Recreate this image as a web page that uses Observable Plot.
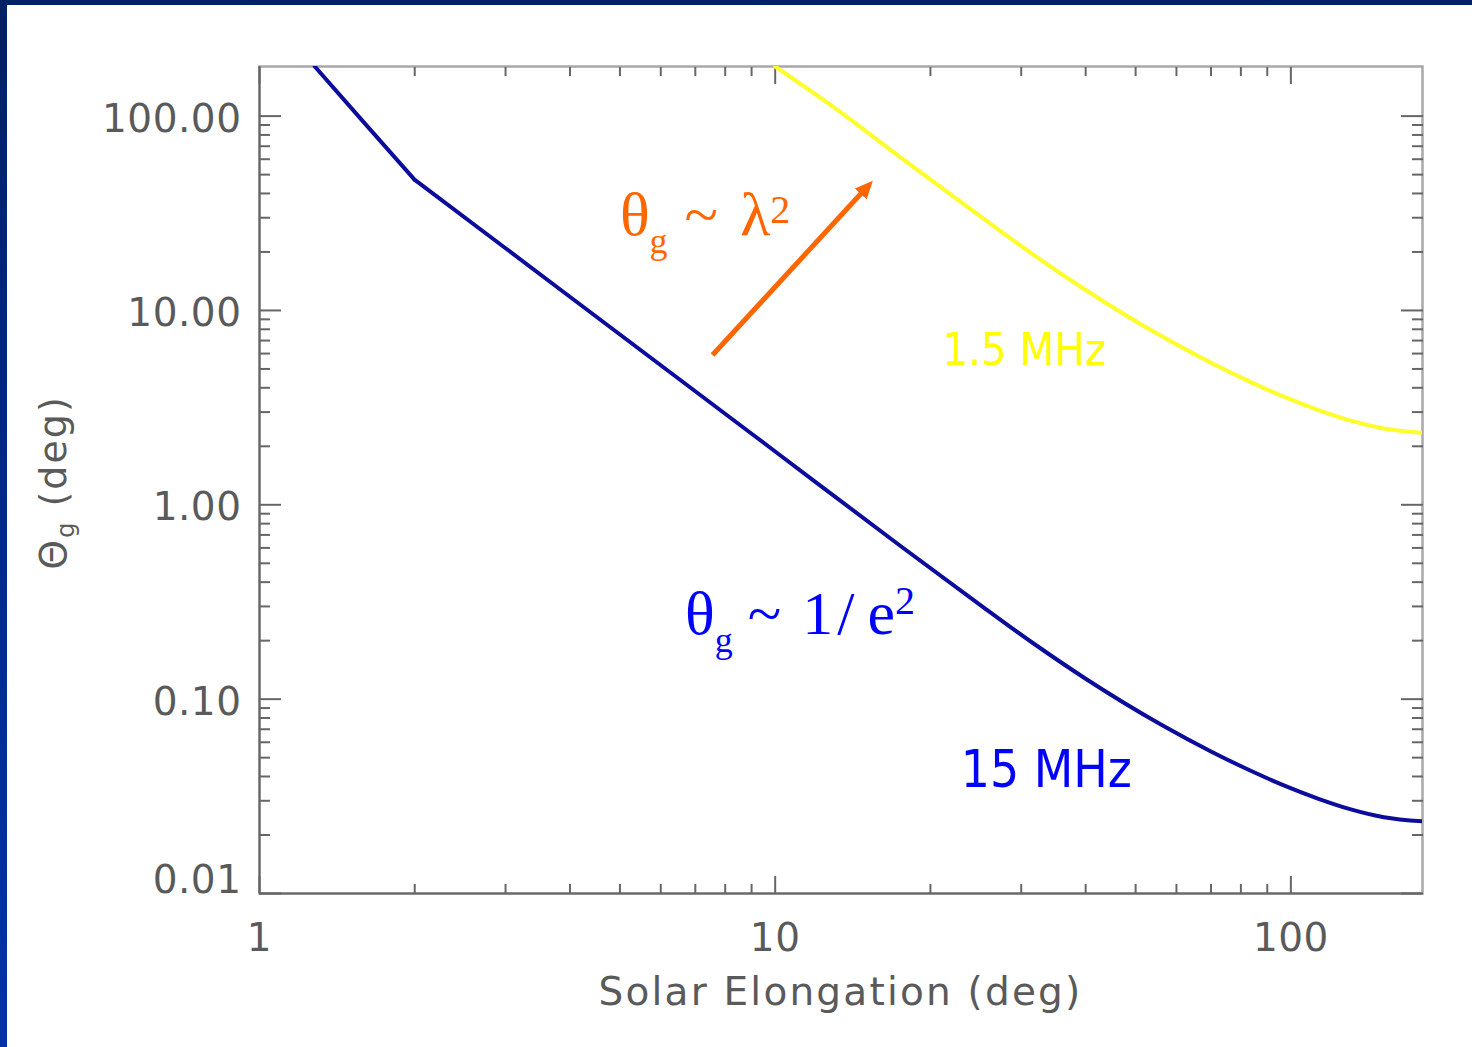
<!DOCTYPE html>
<html>
<head>
<meta charset="utf-8">
<script src="https://cdn.jsdelivr.net/npm/d3@7"></script>
<script src="https://cdn.jsdelivr.net/npm/@observablehq/plot@0.6"></script>
<style>
  html, body { margin: 0; padding: 0; }
  body {
    width: 1472px; height: 1047px; overflow: hidden; position: relative;
    background: linear-gradient(180deg, #002066 0%, #0034a6 100%);
  }
  #chart { position: absolute; left: 7px; top: 5px; background: #fff; }
  #chart g[aria-label="y-axis tick label"] text,
  #chart g[aria-label="x-axis tick label"] text { letter-spacing: 0.5px; }
</style>
</head>
<body>
<div id="chart"></div>
<script>
// Scattering angle θg (deg) against solar elongation (deg), 15 MHz
const elong15 = [1.28, 1.6, 2, 3, 5, 10, 17.5, 25, 31.6, 40, 56.2, 70, 83.6, 96.9, 112.8, 130.7, 151.5, 180];
const theta15 = [180, 91.8, 47, 20.9, 7.52, 1.88, 0.614, 0.305, 0.1945, 0.1274, 0.0736, 0.0538, 0.0428, 0.0360, 0.0308, 0.0271, 0.0247, 0.0235];

// Same quantity at 1.5 MHz
const elong1p5 = [10, 13, 17.5, 25, 31.6, 40, 56.2, 70, 83.6, 96.9, 112.8, 130.7, 151.5, 180];
const theta1p5 = [180, 111, 61.4, 30.5, 19.45, 12.74, 7.36, 5.38, 4.28, 3.60, 3.08, 2.71, 2.47, 2.35];

// Axis ticks and labels
const xMajorTicks = [1, 10, 100];
const xMinorTicks = [2, 3, 4, 5, 6, 7, 8, 9, 20, 30, 40, 50, 60, 70, 80, 90];
const xTickLabels = ["1", "10", "100"];
const yMajorTicks = [0.01, 0.1, 1, 10, 100];
const yMinorTicks = [0.02, 0.03, 0.04, 0.05, 0.06, 0.07, 0.08, 0.09,
                     0.2, 0.3, 0.4, 0.5, 0.6, 0.7, 0.8, 0.9,
                     2, 3, 4, 5, 6, 7, 8, 9,
                     20, 30, 40, 50, 60, 70, 80, 90];
const yTickLabels = ["0.01", "0.10", "1.00", "10.00", "100.00"];

// Annotations (data coordinates)
const curveLabels = [
  {text: "1.5 MHz", elong: 21.1, theta: 5.26},
  {text: "15 MHz", elong: 22.9, theta: 0.0354}
];
const arrowFrom = {elong: 7.56, theta: 5.9};
const arrowTo = {elong: 15.1, theta: 43.4};
const lambdaNote = {elong: 5.01, theta: 24.3};
const elongNote = {elong: 6.70, theta: 0.214};

const series15 = elong15.map((e, i) => ({elong: e, theta: theta15[i]}));
const series1p5 = elong1p5.map((e, i) => ({elong: e, theta: theta1p5[i]}));

const W = 1465, H = 1042;
const mL = 252, mT = 61, mR = 50, mB = 154;
const axisGray = "#666";
const textGray = "#5a5a5a";

const yFmt = d => yTickLabels[yMajorTicks.indexOf(d)];
const xFmt = d => xTickLabels[xMajorTicks.indexOf(d)];

const plot = Plot.plot({
  width: W, height: H,
  marginLeft: mL, marginTop: mT, marginRight: mR, marginBottom: mB,
  style: {background: "#fff", fontFamily: "DejaVu Sans"},
  x: {type: "log", domain: [1, 180]},
  y: {type: "log", domain: [0.01, 180]},
  marks: [
    Plot.frame({stroke: "#a8a8a8", strokeWidth: 2.5}),
    Plot.ruleX([1], {stroke: axisGray, strokeWidth: 2}),
    Plot.ruleY([0.01], {stroke: axisGray, strokeWidth: 2}),

    // inward ticks on all four sides
    Plot.axisX({anchor: "bottom", ticks: xMajorTicks, tickSize: -17, fill: "none", stroke: axisGray, strokeWidth: 2, label: null}),
    Plot.axisX({anchor: "bottom", ticks: xMinorTicks, tickSize: -9, fill: "none", stroke: axisGray, strokeWidth: 2, label: null}),
    Plot.axisX({anchor: "top", ticks: xMajorTicks, tickSize: -17, fill: "none", stroke: axisGray, strokeWidth: 2, label: null}),
    Plot.axisX({anchor: "top", ticks: xMinorTicks, tickSize: -9, fill: "none", stroke: axisGray, strokeWidth: 2, label: null}),
    Plot.axisY({anchor: "left", ticks: yMajorTicks, tickSize: -22, fill: "none", stroke: axisGray, strokeWidth: 2, label: null}),
    Plot.axisY({anchor: "left", ticks: yMinorTicks, tickSize: -11, fill: "none", stroke: axisGray, strokeWidth: 2, label: null}),
    Plot.axisY({anchor: "right", ticks: yMajorTicks, tickSize: -22, fill: "none", stroke: axisGray, strokeWidth: 2, label: null}),
    Plot.axisY({anchor: "right", ticks: yMinorTicks, tickSize: -11, fill: "none", stroke: axisGray, strokeWidth: 2, label: null}),

    // tick labels
    Plot.axisX({anchor: "bottom", ticks: xMajorTicks, tickSize: 0, tickPadding: 30, tickFormat: xFmt,
                fontSize: 39, fill: textGray, label: null}),
    Plot.axisY({anchor: "left", ticks: yMajorTicks.filter(d => d > 0.01), tickSize: 0, tickPadding: 18, tickFormat: yFmt,
                fontSize: 39, fill: textGray, dy: 3, label: null}),
    Plot.axisY({anchor: "left", ticks: yMajorTicks.filter(d => d === 0.01), tickSize: 0, tickPadding: 18, tickFormat: yFmt,
                fontSize: 39, fill: textGray, dy: -13, label: null}),

    // curves: the 15 MHz one has a sharp break at 2 deg
    Plot.line(series1p5, {x: "elong", y: "theta", stroke: "#ffff2a", strokeWidth: 4, curve: "monotone-x", clip: true}),
    Plot.line(series15.filter(d => d.elong <= 2), {x: "elong", y: "theta", stroke: "#0c0c9c", strokeWidth: 4, curve: "linear", clip: true}),
    Plot.line(series15.filter(d => d.elong >= 2), {x: "elong", y: "theta", stroke: "#0c0c9c", strokeWidth: 4, curve: "monotone-x", clip: true}),

    // wavelength-scaling arrow
    Plot.link([arrowFrom], {x1: "elong", y1: "theta", x2: () => arrowTo.elong, y2: () => arrowTo.theta,
                            stroke: "#ff6600", strokeWidth: 5}),

    // curve labels
    Plot.text(curveLabels.slice(0, 1), {x: "elong", y: "theta", text: "text", textAnchor: "start", lineAnchor: "bottom",
                fill: "#ffff00", fontSize: 45, fontFamily: "'DejaVu Sans Condensed', 'DejaVu Sans', sans-serif"}),
    Plot.text(curveLabels.slice(1), {x: "elong", y: "theta", text: "text", textAnchor: "start", lineAnchor: "bottom",
                fill: "#0000ff", fontSize: 51, fontFamily: "'DejaVu Sans Condensed', 'DejaVu Sans', sans-serif"})
  ]
});

document.getElementById("chart").appendChild(plot);

const svg = d3.select(plot);
const sx = plot.scale("x"), sy = plot.scale("y");

// filled arrowhead for the link
const defs = svg.append("defs");
defs.append("marker")
  .attr("id", "arrowhead")
  .attr("viewBox", "0 0 18 16")
  .attr("refX", 10).attr("refY", 8)
  .attr("markerWidth", 18).attr("markerHeight", 16)
  .attr("markerUnits", "userSpaceOnUse")
  .attr("orient", "auto")
  .append("path").attr("d", "M0,0L18,8L0,16Z").attr("fill", "#ff6600");
svg.selectAll('g[aria-label="link"] path').attr("marker-end", "url(#arrowhead)");

// θg ~ λ²
const serif = "'Liberation Serif', 'Times New Roman', serif";
const t1 = svg.append("text")
  .attr("x", sx.apply(lambdaNote.elong)).attr("y", sy.apply(lambdaNote.theta))
  .attr("text-anchor", "start")
  .attr("fill", "#ff6600").attr("font-family", serif).attr("font-size", 62);
t1.append("tspan").text("θ");
t1.append("tspan").attr("font-size", 36).attr("dy", 18).text("g");
t1.append("tspan").attr("dy", -18).attr("dx", 17).text("~");
t1.append("tspan").attr("dx", 22).text("λ");
t1.append("tspan").attr("font-size", 40).attr("dy", -12).text("2");

// θg ~ 1/e²
const t2 = svg.append("text")
  .attr("x", sx.apply(elongNote.elong)).attr("y", sy.apply(elongNote.theta))
  .attr("text-anchor", "start")
  .attr("fill", "#0000ff").attr("font-family", serif).attr("font-size", 62);
t2.append("tspan").text("θ");
t2.append("tspan").attr("font-size", 36).attr("dy", 18).text("g");
t2.append("tspan").attr("dy", -18).attr("dx", 15).text("~");
t2.append("tspan").attr("dx", 21).text("1");
t2.append("tspan").attr("dx", 4).text("/");
t2.append("tspan").attr("dx", 13).text("e");
t2.append("tspan").attr("font-size", 40).attr("dy", -20).text("2");

// axis titles
const yTitle = svg.append("text")
  .attr("transform", `translate(${mL - 193},${(mT + H - mB) / 2 + 3}) rotate(-90)`)
  .attr("text-anchor", "middle").attr("fill", textGray)
  .attr("font-family", "DejaVu Sans").attr("font-size", 38)
  .style("letter-spacing", "2px");
yTitle.append("tspan").text("Θ");
yTitle.append("tspan").attr("font-size", 24).attr("dy", 8).text("g");
yTitle.append("tspan").attr("dy", -8).text(" (deg)");

svg.append("text")
  .attr("x", (mL + W - mR) / 2).attr("y", H - 42)
  .attr("text-anchor", "middle").attr("fill", textGray)
  .attr("font-family", "DejaVu Sans").attr("font-size", 39)
  .style("letter-spacing", "2.2px")
  .text("Solar Elongation (deg)");
</script>
</body>
</html>
